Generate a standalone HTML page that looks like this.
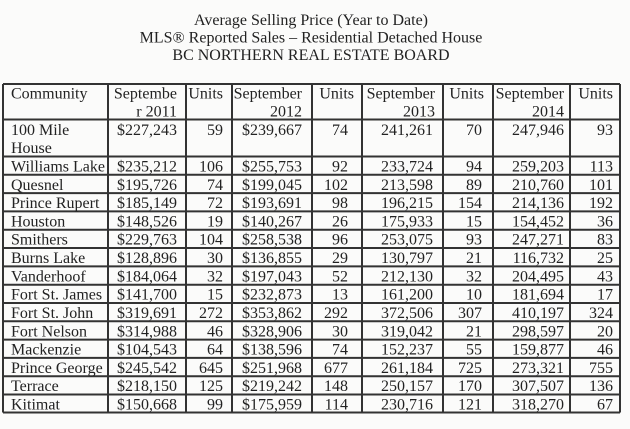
<!DOCTYPE html>
<html><head><meta charset="utf-8"><style>
html,body{margin:0;padding:0;background:#fbfbfa;}
svg{display:block;}
text{font-family:"Liberation Serif",serif;font-size:16px;fill:#222;}
.e{text-anchor:end;}
.c{text-anchor:middle;}
line{stroke:#333;stroke-width:2;}
</style></head><body>
<svg width="630" height="429" viewBox="0 0 630 429" xmlns="http://www.w3.org/2000/svg">
<rect width="630" height="429" fill="#fbfbfa"/>
<text class="c" x="311" y="25">Average Selling Price (Year to Date)</text>
<text class="c" x="311" y="42.5">MLS® Reported Sales – Residential Detached House</text>
<text class="c" x="311" y="60">BC NORTHERN REAL ESTATE BOARD</text>

<line x1="3" y1="84" x2="620" y2="84"/>
<line x1="3" y1="119.5" x2="620" y2="119.5"/>
<line x1="3" y1="156.5" x2="620" y2="156.5"/>
<line x1="3" y1="174.8" x2="620" y2="174.8"/>
<line x1="3" y1="193.1" x2="620" y2="193.1"/>
<line x1="3" y1="211.4" x2="620" y2="211.4"/>
<line x1="3" y1="229.7" x2="620" y2="229.7"/>
<line x1="3" y1="248" x2="620" y2="248"/>
<line x1="3" y1="266.4" x2="620" y2="266.4"/>
<line x1="3" y1="284.7" x2="620" y2="284.7"/>
<line x1="3" y1="303" x2="620" y2="303"/>
<line x1="3" y1="321.3" x2="620" y2="321.3"/>
<line x1="3" y1="339.6" x2="620" y2="339.6"/>
<line x1="3" y1="357.9" x2="620" y2="357.9"/>
<line x1="3" y1="376.2" x2="620" y2="376.2"/>
<line x1="3" y1="394.5" x2="620" y2="394.5"/>
<line x1="3" y1="412.5" x2="620" y2="412.5"/>
<line x1="3" y1="84" x2="3" y2="412.5"/>
<line x1="108" y1="84" x2="108" y2="412.5"/>
<line x1="186" y1="84" x2="186" y2="412.5"/>
<line x1="232" y1="84" x2="232" y2="412.5"/>
<line x1="312" y1="84" x2="312" y2="412.5"/>
<line x1="362" y1="84" x2="362" y2="412.5"/>
<line x1="443" y1="84" x2="443" y2="412.5"/>
<line x1="493" y1="84" x2="493" y2="412.5"/>
<line x1="570" y1="84" x2="570" y2="412.5"/>
<line x1="620" y1="84" x2="620" y2="412.5"/>

<text x="11" y="98.5">Community</text>
<text class="e" x="177" y="98.5">Septembe</text>
<text class="e" x="177" y="116.5">r 2011</text>
<text class="e" x="223" y="98.5">Units</text>
<text class="e" x="302" y="98.5">September</text>
<text class="e" x="302" y="116.5">2012</text>
<text class="e" x="354" y="98.5">Units</text>
<text class="e" x="435" y="98.5">September</text>
<text class="e" x="435" y="116.5">2013</text>
<text class="e" x="484" y="98.5">Units</text>
<text class="e" x="564" y="98.5">September</text>
<text class="e" x="564" y="116.5">2014</text>
<text class="e" x="613" y="98.5">Units</text>

<text x="11" y="135">100 Mile</text>
<text x="11" y="153">House</text>
<text class="e" x="177" y="135">$227,243</text>
<text class="e" x="223" y="135">59</text>
<text class="e" x="302" y="135">$239,667</text>
<text class="e" x="348" y="135">74</text>
<text class="e" x="433" y="135">241,261</text>
<text class="e" x="482" y="135">70</text>
<text class="e" x="564" y="135">247,946</text>
<text class="e" x="613" y="135">93</text>

<g transform="translate(0,171.5)">
<text x="11" y="0">Williams Lake</text><text class="e" x="177" y="0">$235,212</text><text class="e" x="223" y="0">106</text><text class="e" x="302" y="0">$255,753</text><text class="e" x="348" y="0">92</text><text class="e" x="433" y="0">233,724</text><text class="e" x="482" y="0">94</text><text class="e" x="564" y="0">259,203</text><text class="e" x="613" y="0">113</text>
</g>
<g transform="translate(0,189.8)">
<text x="11" y="0">Quesnel</text><text class="e" x="177" y="0">$195,726</text><text class="e" x="223" y="0">74</text><text class="e" x="302" y="0">$199,045</text><text class="e" x="348" y="0">102</text><text class="e" x="433" y="0">213,598</text><text class="e" x="482" y="0">89</text><text class="e" x="564" y="0">210,760</text><text class="e" x="613" y="0">101</text>
</g>
<g transform="translate(0,208.1)">
<text x="11" y="0">Prince Rupert</text><text class="e" x="177" y="0">$185,149</text><text class="e" x="223" y="0">72</text><text class="e" x="302" y="0">$193,691</text><text class="e" x="348" y="0">98</text><text class="e" x="433" y="0">196,215</text><text class="e" x="482" y="0">154</text><text class="e" x="564" y="0">214,136</text><text class="e" x="613" y="0">192</text>
</g>
<g transform="translate(0,226.4)">
<text x="11" y="0">Houston</text><text class="e" x="177" y="0">$148,526</text><text class="e" x="223" y="0">19</text><text class="e" x="302" y="0">$140,267</text><text class="e" x="348" y="0">26</text><text class="e" x="433" y="0">175,933</text><text class="e" x="482" y="0">15</text><text class="e" x="564" y="0">154,452</text><text class="e" x="613" y="0">36</text>
</g>
<g transform="translate(0,244.7)">
<text x="11" y="0">Smithers</text><text class="e" x="177" y="0">$229,763</text><text class="e" x="223" y="0">104</text><text class="e" x="302" y="0">$258,538</text><text class="e" x="348" y="0">96</text><text class="e" x="433" y="0">253,075</text><text class="e" x="482" y="0">93</text><text class="e" x="564" y="0">247,271</text><text class="e" x="613" y="0">83</text>
</g>
<g transform="translate(0,263)">
<text x="11" y="0">Burns Lake</text><text class="e" x="177" y="0">$128,896</text><text class="e" x="223" y="0">30</text><text class="e" x="302" y="0">$136,855</text><text class="e" x="348" y="0">29</text><text class="e" x="433" y="0">130,797</text><text class="e" x="482" y="0">21</text><text class="e" x="564" y="0">116,732</text><text class="e" x="613" y="0">25</text>
</g>
<g transform="translate(0,281.4)">
<text x="11" y="0">Vanderhoof</text><text class="e" x="177" y="0">$184,064</text><text class="e" x="223" y="0">32</text><text class="e" x="302" y="0">$197,043</text><text class="e" x="348" y="0">52</text><text class="e" x="433" y="0">212,130</text><text class="e" x="482" y="0">32</text><text class="e" x="564" y="0">204,495</text><text class="e" x="613" y="0">43</text>
</g>
<g transform="translate(0,299.7)">
<text x="11" y="0">Fort St. James</text><text class="e" x="177" y="0">$141,700</text><text class="e" x="223" y="0">15</text><text class="e" x="302" y="0">$232,873</text><text class="e" x="348" y="0">13</text><text class="e" x="433" y="0">161,200</text><text class="e" x="482" y="0">10</text><text class="e" x="564" y="0">181,694</text><text class="e" x="613" y="0">17</text>
</g>
<g transform="translate(0,318)">
<text x="11" y="0">Fort St. John</text><text class="e" x="177" y="0">$319,691</text><text class="e" x="223" y="0">272</text><text class="e" x="302" y="0">$353,862</text><text class="e" x="348" y="0">292</text><text class="e" x="433" y="0">372,506</text><text class="e" x="482" y="0">307</text><text class="e" x="564" y="0">410,197</text><text class="e" x="613" y="0">324</text>
</g>
<g transform="translate(0,336.3)">
<text x="11" y="0">Fort Nelson</text><text class="e" x="177" y="0">$314,988</text><text class="e" x="223" y="0">46</text><text class="e" x="302" y="0">$328,906</text><text class="e" x="348" y="0">30</text><text class="e" x="433" y="0">319,042</text><text class="e" x="482" y="0">21</text><text class="e" x="564" y="0">298,597</text><text class="e" x="613" y="0">20</text>
</g>
<g transform="translate(0,354.6)">
<text x="11" y="0">Mackenzie</text><text class="e" x="177" y="0">$104,543</text><text class="e" x="223" y="0">64</text><text class="e" x="302" y="0">$138,596</text><text class="e" x="348" y="0">74</text><text class="e" x="433" y="0">152,237</text><text class="e" x="482" y="0">55</text><text class="e" x="564" y="0">159,877</text><text class="e" x="613" y="0">46</text>
</g>
<g transform="translate(0,372.9)">
<text x="11" y="0">Prince George</text><text class="e" x="177" y="0">$245,542</text><text class="e" x="223" y="0">645</text><text class="e" x="302" y="0">$251,968</text><text class="e" x="348" y="0">677</text><text class="e" x="433" y="0">261,184</text><text class="e" x="482" y="0">725</text><text class="e" x="564" y="0">273,321</text><text class="e" x="613" y="0">755</text>
</g>
<g transform="translate(0,391.2)">
<text x="11" y="0">Terrace</text><text class="e" x="177" y="0">$218,150</text><text class="e" x="223" y="0">125</text><text class="e" x="302" y="0">$219,242</text><text class="e" x="348" y="0">148</text><text class="e" x="433" y="0">250,157</text><text class="e" x="482" y="0">170</text><text class="e" x="564" y="0">307,507</text><text class="e" x="613" y="0">136</text>
</g>
<g transform="translate(0,409.3)">
<text x="11" y="0">Kitimat</text><text class="e" x="177" y="0">$150,668</text><text class="e" x="223" y="0">99</text><text class="e" x="302" y="0">$175,959</text><text class="e" x="348" y="0">114</text><text class="e" x="433" y="0">230,716</text><text class="e" x="482" y="0">121</text><text class="e" x="564" y="0">318,270</text><text class="e" x="613" y="0">67</text>
</g>
</svg>
</body></html>
